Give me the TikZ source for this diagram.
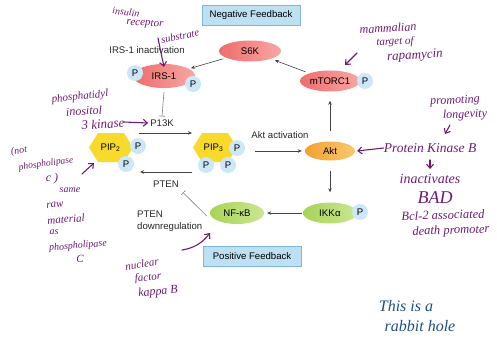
\documentclass[tikz,border=0pt]{standalone}
\usepackage{fontspec}
\setmainfont{Liberation Sans}
\newfontfamily\hand{Liberation Serif}
\usetikzlibrary{arrows.meta,shapes.geometric}
\definecolor{fbfill}{HTML}{BDE0F3}
\definecolor{fbdraw}{HTML}{7DB7DC}
\definecolor{redL}{HTML}{EE6D6C}
\definecolor{redR}{HTML}{F7A7A4}
\definecolor{orgL}{HTML}{F4A032}
\definecolor{orgR}{HTML}{F9C86E}
\definecolor{grnL}{HTML}{A7D456}
\definecolor{grnR}{HTML}{CBE692}
\definecolor{hexfill}{HTML}{F8DA2C}
\definecolor{pfill}{HTML}{CCE8F8}
\definecolor{purp}{HTML}{6E1A72}
\definecolor{hblue}{HTML}{1E4F8A}
\definecolor{linec}{HTML}{444444}
\tikzset{
  lbl/.style={inner sep=1pt, text=black!85},
  fb/.style={draw=fbdraw, fill=fbfill, line width=0.8pt, minimum width=98pt, minimum height=20pt, inner sep=0pt},
  prot/.style={ellipse, inner sep=0pt, minimum width=#1, minimum height=21pt},
  redell/.style={prot=#1, left color=redL, right color=redR},
  orgell/.style={prot=#1, left color=orgL, right color=orgR},
  grnell/.style={prot=#1, left color=grnL, right color=grnR},
  pc/.style={circle, fill=pfill, minimum size=16pt, inner sep=0pt},
  hexa/.style={minimum width=44pt, minimum height=29pt, inner sep=0pt,
    path picture={\fill[hexfill] (path picture bounding box.west)
      -- ([xshift=9pt]path picture bounding box.north west)
      -- ([xshift=-9pt]path picture bounding box.north east)
      -- (path picture bounding box.east)
      -- ([xshift=-9pt]path picture bounding box.south east)
      -- ([xshift=9pt]path picture bounding box.south west) -- cycle;}},
  arr/.style={draw=linec, line width=0.6pt, -{Stealth[length=4pt,width=3.5pt]}},
  inh/.style={draw=gray, line width=0.6pt, -{Bar[width=6pt]}},
  hw/.style={text=purp, font=\hand\itshape\fontsize{#1}{#1}\selectfont, inner sep=0pt},
  hw/.default=11,
  hb/.style={text=hblue, font=\hand\itshape\fontsize{#1}{#1}\selectfont, inner sep=0pt},
  harr/.style={draw=purp, line width=1.1pt, line cap=round, -{Straight Barb[length=4pt,width=7pt]}}
}
\begin{document}
\begin{tikzpicture}[x=1pt,y=-1pt,font=\fontsize{9.6}{11.6}\selectfont]
\useasboundingbox (0,0) rectangle (497,337);
% feedback boxes
\node[fb] (neg) at (251,15) {Negative Feedback};
\node[fb] (pos) at (252,256.5) {Positive Feedback};
% proteins
\node[redell=62pt] (s6k) at (250,51) {S6K};
\node[lbl] (irsinact) at (147,50) {IRS-1 inactivation};
\node[redell=62pt, minimum height=24pt] (irs) at (164,76) {IRS-1};
\node[pc] (irsp1) at (135,73) {P};
\node[pc] (irsp2) at (193,84) {P};
\node[redell=60pt] (mtor) at (330,81) {mTORC1};
\node[pc] (mtorp) at (365,81) {P};
\node[lbl] (p13k) at (162,123) {P13K};
\node[hexa] (pip2) at (111,147.5) {PIP\textsubscript{2}\hspace*{1pt}};
\node[pc] (pip2p1) at (138,146) {P};
\node[pc] (pip2p2) at (126,164) {P};
\node[hexa] (pip3) at (215,147.5) {PIP\textsubscript{3}\hspace*{3pt}};
\node[pc] (pip3p1) at (237,148) {P};
\node[pc] (pip3p2) at (206,165) {P};
\node[pc] (pip3p3) at (228,165) {P};
\node[lbl] (pten) at (166,184) {PTEN};
\node[lbl] (aktact) at (280,135) {Akt activation};
\node[orgell=50pt, minimum height=19pt] (akt) at (330,151) {Akt};
\node[grnell=54pt] (ikk) at (330,213) {IKK\hspace*{0.5pt}α};
\node[pc] (ikkp) at (360,212) {P};
\node[grnell=54pt, minimum height=22pt] (nfkb) at (237,213) {NF-κB};
\node[lbl, anchor=west, align=left] (ptendown) at (136,221) {PTEN\\downregulation};
% connectors
\coordinate (k1) at (139,133);
\coordinate (k2) at (192,133);
\coordinate (r1) at (192,172);
\coordinate (r2) at (140,172);
\coordinate (a1) at (255,151);
\draw[arr, shorten <=4pt, shorten >=4pt] (mtor) -- (s6k);
\draw[arr, shorten <=3pt, shorten >=2pt] (s6k) -- (irs);
\draw[inh] ([yshift=-4pt]irs.south) -- ([yshift=2pt]p13k.north);
\draw[arr] (k1) -- (k2);
\draw[arr] (r1) -- (r2);
\draw[arr] (a1) -- ([xshift=-3pt]akt.west);
\draw[arr, shorten <=10pt, shorten >=9pt] (akt.north) -- (mtor.south);
\draw[arr, shorten <=10pt, shorten >=10pt] (akt.south) -- (ikk.north);
\draw[arr, shorten <=1pt, shorten >=3pt] (ikk.west) -- (nfkb.east);
\draw[inh] ([xshift=-3pt,yshift=-3pt]nfkb.west) -- ([xshift=3pt,yshift=-4pt]pten.south east);
% handwritten notes (purple)
\node[hw=10, rotate=-6] (n1) at (126,12) {insulin};
\node[hw=11, rotate=-3] (n2) at (145,24) {receptor};
\node[hw=10.5, rotate=12] (n3) at (180,36) {substrate};
\coordinate (h1) at (158,38);
\draw[harr] (h1) .. controls (160,48) .. ([yshift=-3pt]irs.north);
\node[hw=12, rotate=3] (m1) at (388,28) {mammalian};
\node[hw=11, rotate=2] (m2) at (395,42) {target of};
\node[hw=13, rotate=3] (m3) at (415,56) {rapamycin};
\coordinate (h2) at (357,53);
\coordinate (h2e) at (345,65);
\draw[harr] (h2) -- (h2e);
\node[hw=11, rotate=6] (q1) at (80,97) {phosphatidyl};
\node[hw=12, rotate=3] (q2) at (84,111) {inositol};
\node[hw=13, rotate=4] (q3) at (103,124) {3 kinase};
\coordinate (h3) at (124,122);
\draw[harr] (h3) -- ([xshift=-1pt]p13k.west);
\node[hw=10, rotate=8] (c1) at (19,151) {(not};
\node[hw=9.5, rotate=8] (c2) at (46,164) {phospholipase};
\node[hw=12] (c3) at (52,179) {c )};
\node[hw=10] (s1) at (70,190) {same};
\node[hw=11, rotate=4] (s2) at (55,205) {raw};
\node[hw=11, rotate=4] (s3) at (66,219) {material};
\node[hw=10] (s4) at (54,232) {as};
\node[hw=10, rotate=5] (s5) at (78,246) {phospholipase};
\node[hw=11] (s6) at (80,259) {C};
\coordinate (h4) at (82,174);
\coordinate (h4e) at (94,163);
\draw[harr] (h4) -- (h4e);
\node[hw=11, rotate=8] (u1) at (142,264) {nuclear};
\node[hw=11, rotate=5] (u2) at (148,278) {factor};
\node[hw=12, rotate=5] (u3) at (158,292) {kappa B};
\coordinate (h5) at (182,250);
\coordinate (h5e) at (210,233);
\draw[harr] (h5) .. controls (195,248) and (203,242) .. (h5e);
\node[hw=12, rotate=3] (v1) at (455,101) {promoting};
\node[hw=12, rotate=2] (v2) at (465,115) {longevity};
\coordinate (h6) at (450,125);
\coordinate (h6e) at (445,134);
\draw[harr] (h6) -- (h6e);
\node[hw=13.5] (pkb) at (430,148) {Protein Kinase B};
\draw[harr] (pkb.west) -- ([xshift=2pt]akt.east);
\coordinate (h7) at (430,160);
\coordinate (h7e) at (430,169);
\draw[harr] (h7) -- (h7e);
\node[hw=14] (w1) at (430,179) {inactivates};
\node[hw=18] (w2) at (435,198) {BAD};
\node[hw=12.5, rotate=2] (w3) at (443,215) {Bcl-2 associated};
\node[hw=12.5, rotate=2] (w4) at (451,231) {death promoter};
% blue note
\node[hb=16] (b1) at (406,306) {This is a};
\node[hb=16] (b2) at (420,326) {rabbit hole};
\end{tikzpicture}
\end{document}
